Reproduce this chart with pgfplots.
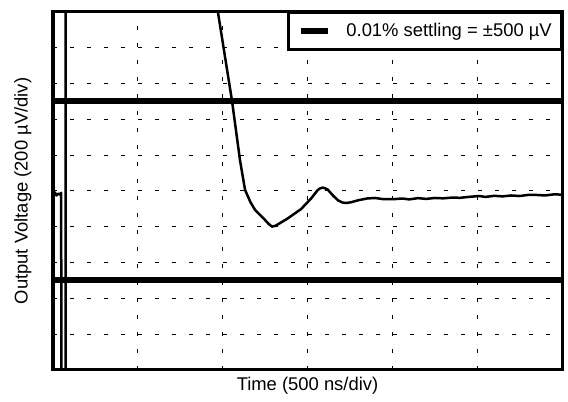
\documentclass[border=0pt]{standalone}
\usepackage{fontspec}
\setmainfont{Liberation Sans}
\usepackage{pgfplots}
\pgfplotsset{compat=1.18}
\begin{document}
\fontsize{18.4bp}{22bp}\selectfont
\begin{tikzpicture}
\begin{axis}[
  at={(0,0)}, anchor=south west,
  scale only axis, width=509bp, height=358bp,
  xmin=0, xmax=3000, ymin=-1000, ymax=1000,
  xtick={500,1000,...,2500}, ytick={-800,-600,...,800},
  xticklabels={}, yticklabels={},
  tick align=inside, xtick pos=bottom, ytick pos=left,
  major tick length=4bp,
  tick style={line width=1bp, black},
  grid=major,
  major grid style={line width=1bp, black, dash pattern=on 4bp off 13bp},
  axis line style={line width=3bp},
  xlabel={Time (500 ns/div)},
  ylabel={Output Voltage (200 µV/div)},
  every axis x label/.style={at={(axis description cs:0.5,0)}, anchor=base, yshift=-20bp},
  every axis y label/.style={at={(axis description cs:-0.05,0.5)}, rotate=90, anchor=base},
  legend style={at={(1,1)}, anchor=north east, draw=black, line width=2.5bp,
    fill=white, inner xsep=9bp, inner ysep=10bp, nodes={inner sep=0pt}},
  legend cell align=left,
  legend image code/.code={\path (-1bp,0bp) (42bp,0bp); \draw[line width=6bp] (0bp,0bp) -- (27bp,0bp);},
]
\addplot[black, line width=6bp] coordinates {(0,500) (3000,500)};
\addlegendentry{0.01\% settling = ±500 µV}
\addplot[black, line width=6bp, forget plot] coordinates {(0,-500) (3000,-500)};
\addplot[black, line width=2.5bp, line join=round, forget plot] coordinates {
(10,-5) (20,-25) (30,-15) (40,-20) (48,-10) (50,-1200) (74,-1200) (74,1200) (939,1200)
(972,1000) (1055,504) (1102,173) (1132,6) (1163,-61) (1191,-106) (1244,-156) (1270,-183)
(1291,-199) (1312,-194) (1379,-156) (1462,-101) (1521,-42) (1560,5) (1575,15) (1589,19)
(1604,15) (1619,8) (1649,-24) (1679,-52) (1705,-64) (1727,-67) (1756,-63) (1798,-52)
(1850,-42) (1898,-39) (1950,-46) (2016,-45) (2060,-42) (2100,-47) (2150,-40) (2200,-44)
(2251,-39) (2300,-41) (2350,-37) (2400,-38) (2450,-33) (2511,-28) (2550,-33) (2600,-27)
(2650,-30) (2700,-25) (2750,-28) (2800,-22) (2847,-22) (2900,-25) (2950,-19) (3000,-20)
};
\end{axis}
\useasboundingbox (-53bp,-32bp) rectangle (515bp,370bp);
\end{tikzpicture}
\end{document}
